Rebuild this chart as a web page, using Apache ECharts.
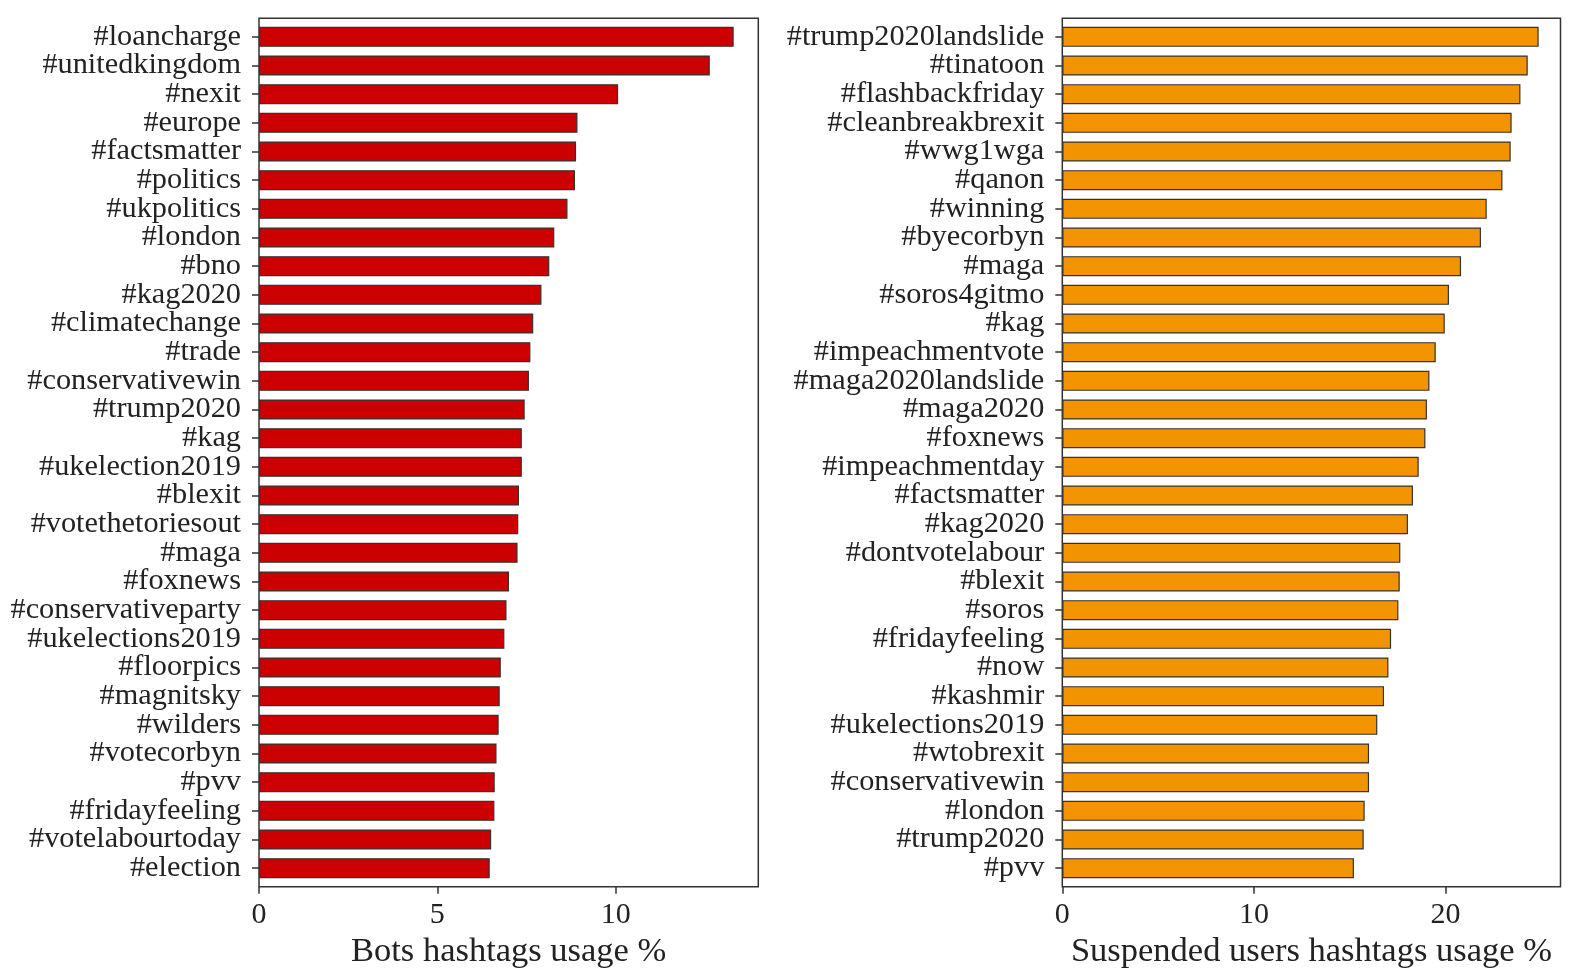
<!DOCTYPE html>
<html>
<head>
<meta charset="utf-8">
<script src="https://cdn.jsdelivr.net/npm/echarts@6/dist/echarts.min.js"></script>
<style>
  html, body { margin: 0; padding: 0; background: #fff; }
  #chart { width: 1581px; height: 978px; }
</style>
</head>
<body>
<div id="chart"></div>
<script>
(function () {
  // bots hashtags, top to bottom
  const botTags = ['#loancharge', '#unitedkingdom', '#nexit', '#europe', '#factsmatter',
    '#politics', '#ukpolitics', '#london', '#bno', '#kag2020', '#climatechange', '#trade',
    '#conservativewin', '#trump2020', '#kag', '#ukelection2019', '#blexit', '#votethetoriesout',
    '#maga', '#foxnews', '#conservativeparty', '#ukelections2019', '#floorpics', '#magnitsky',
    '#wilders', '#votecorbyn', '#pvv', '#fridayfeeling', '#votelabourtoday', '#election']
  const botValues = [13.31, 12.64, 10.07, 8.93, 8.89, 8.86, 8.65, 8.28, 8.14, 7.92, 7.69, 7.61,
    7.57, 7.45, 7.37, 7.37, 7.29, 7.27, 7.25, 7.01, 6.94, 6.88, 6.78, 6.75, 6.72, 6.66, 6.61,
    6.60, 6.51, 6.47]

  // suspended users hashtags, top to bottom
  const suspTags = ['#trump2020landslide', '#tinatoon', '#flashbackfriday', '#cleanbreakbrexit',
    '#wwg1wga', '#qanon', '#winning', '#byecorbyn', '#maga', '#soros4gitmo', '#kag',
    '#impeachmentvote', '#maga2020landslide', '#maga2020', '#foxnews', '#impeachmentday',
    '#factsmatter', '#kag2020', '#dontvotelabour', '#blexit', '#soros', '#fridayfeeling', '#now',
    '#kashmir', '#ukelections2019', '#wtobrexit', '#conservativewin', '#london', '#trump2020', '#pvv']
  const suspValues = [24.86, 24.29, 23.91, 23.45, 23.40, 22.97, 22.15, 21.85, 20.81, 20.18, 19.96,
    19.49, 19.16, 19.03, 18.95, 18.60, 18.30, 18.04, 17.64, 17.61, 17.54, 17.16, 17.02, 16.79,
    16.44, 16.01, 16.01, 15.78, 15.73, 15.22]

  const botTicks = [0, 5, 10]
  const suspTicks = [0, 10, 20]

  const font = '"Liberation Serif", "DejaVu Serif", serif'
  const ink = '#222'

  const chart = echarts.init(document.getElementById('chart'))

  function valueAxis(grid, max, ticks, name) {
    return {
      type: 'value',
      gridIndex: grid,
      min: 0,
      max: max,
      offset: 4.2,
      name: name,
      nameLocation: 'middle',
      nameGap: 45,
      nameTextStyle: { fontFamily: font, fontSize: 34.5, color: ink },
      axisLine: { show: false },
      axisTick: { show: true, length: 7, customValues: ticks, lineStyle: { color: '#333', width: 1.5 } },
      axisLabel: { margin: 13, customValues: ticks, fontFamily: font, fontSize: 30, color: ink },
      splitLine: { show: false }
    }
  }

  function catAxis(grid, tags) {
    return {
      type: 'category',
      gridIndex: grid,
      data: tags,
      inverse: true,
      axisLine: { show: false },
      axisTick: { show: true, alignWithLabel: true, length: 7, lineStyle: { color: '#333', width: 1.5 } },
      axisLabel: { margin: 18, padding: [5, 0, 0, 0], fontFamily: font, fontSize: 30.3, color: ink, interval: 0 }
    }
  }

  const option = {
    backgroundColor: '#fff',
    animation: false,
    grid: [
      { left: 259, right: 822.7, top: 22.5, bottom: 95.5 },
      { left: 1062.3, right: 20.5, top: 22.5, bottom: 95.5 },
      // frames
      { left: 259, right: 822.7, top: 18.3, bottom: 91.3, show: true, borderColor: '#333', borderWidth: 1.5, backgroundColor: 'transparent' },
      { left: 1062.3, right: 20.5, top: 18.3, bottom: 91.3, show: true, borderColor: '#333', borderWidth: 1.5, backgroundColor: 'transparent' }
    ],
    xAxis: [
      valueAxis(0, 14, botTicks, 'Bots hashtags usage %'),
      valueAxis(1, 26, suspTicks, 'Suspended users hashtags usage %'),
      { type: 'value', gridIndex: 2, show: false },
      { type: 'value', gridIndex: 3, show: false }
    ],
    yAxis: [
      catAxis(0, botTags),
      catAxis(1, suspTags),
      { type: 'value', gridIndex: 2, show: false },
      { type: 'value', gridIndex: 3, show: false }
    ],
    series: [
      {
        type: 'bar',
        xAxisIndex: 0,
        yAxisIndex: 0,
        data: botValues,
        barWidth: 20,
        itemStyle: { color: '#cc0000', borderColor: '#333', borderWidth: 1.2 }
      },
      {
        type: 'bar',
        xAxisIndex: 1,
        yAxisIndex: 1,
        data: suspValues,
        barWidth: 20,
        itemStyle: { color: '#f29400', borderColor: '#333', borderWidth: 1.2 }
      }
    ]
  }

  chart.setOption(option)
})();
</script>
</body>
</html>
